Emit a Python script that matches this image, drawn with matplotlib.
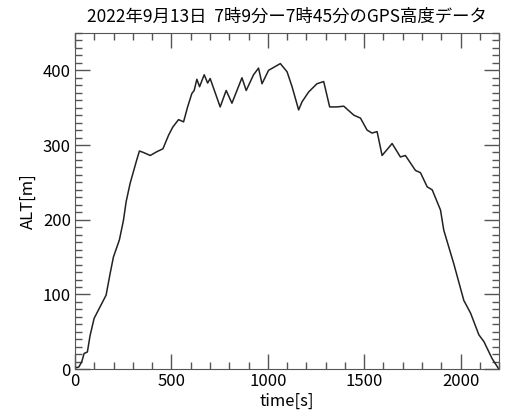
import matplotlib
matplotlib.use("Agg")
import matplotlib.pyplot as plt
from matplotlib.ticker import MultipleLocator

plt.rcParams['font.family'] = ['Noto Sans CJK JP', 'DejaVu Sans']

# GPS高度データ (値はグラフから読み取り)
time_s = [0, 9, 20, 35, 47, 64, 78, 99, 139, 161, 182, 199, 230, 251, 265, 286,
          320, 334, 355, 390, 424, 456, 485, 507, 537, 563, 584, 606, 618,
          632, 646, 670, 688, 701, 753, 784, 814, 866, 888, 926, 952, 970,
          1004, 1065, 1100, 1126, 1160, 1178, 1212, 1255, 1290, 1321, 1359,
          1394, 1446, 1481, 1515, 1541, 1567, 1593, 1645, 1688, 1714, 1766,
          1792, 1827, 1853, 1896, 1913, 1965, 2017, 2052, 2095, 2121, 2164,
          2199]
alt_m = [3, 2, 3, 10, 21, 23, 45, 68, 88, 99, 128, 150, 173, 199, 224, 249,
         280, 292, 290, 286, 291, 295, 313, 324, 334, 331, 351, 369, 373,
         388, 378, 394, 383, 389, 351, 373, 356, 390, 373, 394, 403, 382,
         400, 409, 398, 378, 347, 358, 371, 382, 385, 351, 351,
         352, 340, 336, 320, 316, 318, 286, 302, 284, 286, 266,
         263, 244, 240, 213, 186, 141, 92, 75, 46, 37, 14,
         0]

title = "2022年9月13日  7時9分ー7時45分のGPS高度データ"

fig = plt.figure(figsize=(5.14, 4.12), dpi=100)
ax = fig.add_axes([0.146, 0.104, 0.825, 0.816])
ax.plot(time_s, alt_m, color="#222222", lw=1.1)

ax.set_xlim(0, 2200)
ax.set_ylim(0, 450)
ax.xaxis.set_major_locator(MultipleLocator(500))
ax.xaxis.set_minor_locator(MultipleLocator(100))
ax.yaxis.set_major_locator(MultipleLocator(100))
ax.yaxis.set_minor_locator(MultipleLocator(10))
ax.tick_params(which="both", direction="in", top=True, right=True,
               color="#555555", width=1)
ax.tick_params(which="major", length=11, labelsize=12, pad=3)
ax.tick_params(which="minor", length=5)
for s in ax.spines.values():
    s.set_color("#555555")

ax.set_xlabel("time[s]", fontsize=12, labelpad=2)
ax.set_ylabel("ALT[m]", fontsize=12, labelpad=4)
ax.set_title(title, fontsize=12.5, pad=8)

fig.savefig("out.png", dpi=100)
plt.close("all")
